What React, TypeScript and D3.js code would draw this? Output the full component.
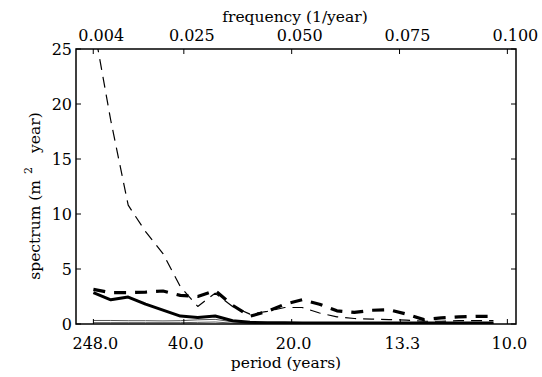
import * as d3 from "d3";

// harmonic index k -> frequency k/248 (1/year)
const harmonics = [1, 2, 3, 4, 5, 6, 7, 8, 9, 10, 11, 12, 13, 14, 15, 16, 17, 18, 19, 20, 21, 22, 23, 24];

const thinDashed = [27.3, 18.5, 10.8, 8.4, 6.4, 3.4, 1.6, 2.8, 1.6, 0.9, 1.15, 1.5, 1.5, 1.0, 0.65, 0.5, 0.45, 0.4, 0.35, 0.25, 0.25, 0.3, 0.3, 0.3];
const thickDashed = [3.15, 2.85, 2.85, 2.9, 3.0, 2.6, 2.5, 3.05, 1.7, 0.7, 1.15, 1.8, 2.2, 1.8, 1.2, 1.05, 1.25, 1.3, 0.9, 0.4, 0.55, 0.65, 0.7, 0.7];
const thickSolid = [2.85, 2.2, 2.45, 1.8, 1.26, 0.72, 0.6, 0.73, 0.3, 0.15, 0.12, 0.12, 0.1, 0.1, 0.1, 0.1, 0.1, 0.08, 0.08, 0.08, 0.08, 0.08, 0.08, 0.08];
const thinUpper = [0.32, 0.32, 0.3, 0.3, 0.28, 0.3, 0.38, 0.42, 0.2, 0.1, 0.1, 0.1, 0.1, 0.1, 0.1, 0.1, 0.1, 0.1, 0.1, 0.1, 0.1, 0.1, 0.1, 0.1];
const thinLower = [0.12, 0.12, 0.12, 0.12, 0.12, 0.12, 0.15, 0.18, 0.08, 0.05, 0.05, 0.05, 0.05, 0.05, 0.05, 0.05, 0.05, 0.05, 0.05, 0.05, 0.05, 0.05, 0.05, 0.05];

const freqTicks = [0.004, 0.025, 0.05, 0.075, 0.1];
const freqLabels = ["0.004", "0.025", "0.050", "0.075", "0.100"];
const periodTicks = [248.0, 40.0, 20.0, 13.3, 10.0];
const periodLabels = ["248.0", "40.0", "20.0", "13.3", "10.0"];
const yTicks = [0, 5, 10, 15, 20, 25];

const W = 542;
const H = 377;
const font = "DejaVu Serif";

export default function App() {
  const x = d3.scaleLinear().domain([0, 0.102]).range([76, 516]);
  const y = d3.scaleLinear().domain([0, 25]).range([324, 49]);
  const [x0, x1] = x.range();
  const [y0, y1] = y.range();

  const line = (vals: number[]) =>
    d3
      .line<number>()
      .x((_, i) => x(harmonics[i] / 248))
      .y((d) => y(d))(vals) ?? "";

  const tick = 5;

  return (
    <svg width={W} height={H} style={{ position: "absolute", left: 0, top: 0, background: "#fff" }}>
      <defs>
        <clipPath id="plot">
          <rect x={x0} y={y1} width={x1 - x0} height={y0 - y1} />
        </clipPath>
      </defs>

      <g clipPath="url(#plot)" fill="none" strokeLinejoin="round">
        <path d={line(thinUpper)} stroke="#555" strokeWidth={1} />
        <path d={line(thinLower)} stroke="#555" strokeWidth={1} />
        <path d={line(thickSolid)} stroke="#000" strokeWidth={3} />
        <path d={line(thinDashed)} stroke="#000" strokeWidth={1.2} strokeDasharray="11,7" />
        <path d={line(thickDashed)} stroke="#000" strokeWidth={3.2} strokeDasharray="12,9" />
      </g>

      {/* frame */}
      <rect x={x0} y={y1} width={x1 - x0} height={y0 - y1} fill="none" stroke="#000" strokeWidth={1.5} />

      <g fontFamily={font} fill="#000">
        {/* y ticks */}
        {yTicks.map((t) => (
          <g key={t}>
            <line x1={x0} x2={x0 + tick} y1={y(t)} y2={y(t)} stroke="#000" />
            <line x1={x1} x2={x1 - tick} y1={y(t)} y2={y(t)} stroke="#000" />
            <text x={x0 - 4} y={y(t)} dy="0.36em" textAnchor="end" fontSize={16}>
              {t}
            </text>
          </g>
        ))}

        {/* top frequency axis */}
        {freqTicks.map((f, i) => (
          <g key={f}>
            <line x1={x(f)} x2={x(f)} y1={y1} y2={y1 + tick} stroke="#000" />
            <text x={x(f) + 8} y={y1 - 8} textAnchor="middle" fontSize={16}>
              {freqLabels[i]}
            </text>
          </g>
        ))}

        {/* bottom period axis */}
        {periodTicks.map((p, i) => (
          <g key={p}>
            <line x1={x(1 / p)} x2={x(1 / p)} y1={y0} y2={y0 - tick} stroke="#000" />
            <text x={x(1 / p) + 2} y={y0 + 25} textAnchor="middle" fontSize={16}>
              {periodLabels[i]}
            </text>
          </g>
        ))}

        <text x={295} y={22} textAnchor="middle" fontSize={15.5}>
          frequency (1/year)
        </text>
        <text x={286} y={368} textAnchor="middle" fontSize={15.5}>
          period (years)
        </text>
        <text transform="translate(40,196) rotate(-90)" textAnchor="middle" fontSize={15.5}>
          spectrum (m
          <tspan dx={6} dy={-8} fontSize={11}>
            2
          </tspan>
          <tspan dx={14} dy={8}>
            year)
          </tspan>
        </text>
      </g>
    </svg>
  );
}
